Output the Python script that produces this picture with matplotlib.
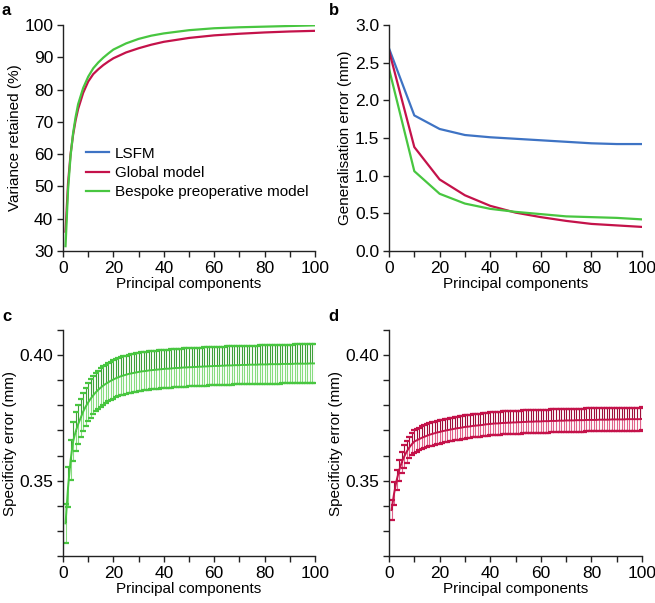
import matplotlib.pyplot as plt
import numpy as np
from matplotlib.lines import Line2D
from matplotlib.ticker import MultipleLocator, FormatStrFormatter

plt.rcParams['font.family'] = ['Liberation Sans', 'DejaVu Sans']
plt.rcParams['font.size'] = 11

blue = '#3E73C4'
red = '#C4124A'
green = '#48C640'

# panel a: cumulative variance retained (%)
var_pc = [1, 2, 3, 4, 5, 6, 8, 10, 12, 14, 16, 18, 20, 25, 30, 35, 40, 50, 60, 70, 80, 90, 100]
var_global = [36, 51, 60, 66, 70.5, 74, 79, 82.5, 84.8, 86.3, 87.6, 88.7, 89.7, 91.5, 92.8,
              93.9, 94.8, 96.0, 96.8, 97.3, 97.7, 98.0, 98.2]
var_bespoke = [31.5, 49, 59.5, 66.5, 71.5, 75.5, 80.5, 84, 86.6, 88.4, 89.9, 91.2, 92.4, 94.3,
               95.7, 96.7, 97.4, 98.4, 99.0, 99.3, 99.5, 99.7, 99.9]

# panel b: generalisation error (mm)
gen_pc = [0, 10, 20, 30, 40, 50, 60, 70, 80, 90, 100]
gen_lsfm = [2.69, 1.80, 1.62, 1.54, 1.51, 1.49, 1.47, 1.45, 1.43, 1.42, 1.42]
gen_global = [2.66, 1.38, 0.95, 0.74, 0.60, 0.51, 0.45, 0.40, 0.36, 0.34, 0.32]
gen_bespoke = [2.42, 1.06, 0.76, 0.63, 0.56, 0.52, 0.49, 0.46, 0.45, 0.44, 0.42]

# panels c, d: specificity error (mm), one value per component 1..100
spec_pc = list(range(1, 101))
spec_bespoke = [
    .3330, .3474, .3581, .3656, .3695, .3725, .3750, .3775, .3795, .3812,
    .3827, .3840, .3852, .3862, .3871, .3879, .3886, .3892, .3898, .3903,
    .3908, .3912, .3916, .3919, .3922, .3925, .3927, .3929, .3931, .3933,
    .3935, .3936, .3937, .3939, .3940, .3941, .3942, .3943, .3944, .3945,
    .3946, .3946, .3947, .3948, .3949, .3949, .3950, .3951, .3951, .3952,
    .3952, .3953, .3953, .3954, .3954, .3955, .3955, .3956, .3956, .3957,
    .3957, .3957, .3958, .3958, .3959, .3959, .3959, .3960, .3960, .3960,
    .3961, .3961, .3961, .3962, .3962, .3962, .3962, .3963, .3963, .3963,
    .3963, .3964, .3964, .3964, .3964, .3964, .3965, .3965, .3965, .3965,
    .3965, .3966, .3966, .3966, .3966, .3966, .3966, .3967, .3967, .3967]
spec_bespoke_sd = [
    .0078, .0079, .0080, .0079, .0078, .0077, .0077, .0076, .0076, .0076,
    .0076, .0076, .0076, .0076, .0076, .0076, .0076, .0076, .0076, .0076,
    .0076, .0076, .0076, .0076, .0076, .0076, .0076, .0076, .0076, .0076,
    .0076, .0076, .0076, .0076, .0076, .0076, .0076, .0076, .0076, .0076,
    .0076, .0076, .0076, .0076, .0076, .0076, .0076, .0076, .0076, .0076,
    .0076, .0076, .0076, .0076, .0076, .0076, .0076, .0076, .0076, .0076,
    .0076, .0076, .0076, .0076, .0076, .0076, .0076, .0076, .0076, .0076,
    .0076, .0076, .0076, .0076, .0076, .0076, .0076, .0076, .0077, .0077,
    .0077, .0077, .0077, .0077, .0077, .0077, .0077, .0077, .0077, .0077,
    .0077, .0077, .0077, .0077, .0077, .0077, .0077, .0077, .0077, .0077]
spec_global = [
    .3383, .3449, .3501, .3541, .3572, .3596, .3616, .3632, .3645, .3656,
    .3661, .3666, .3671, .3675, .3679, .3683, .3686, .3689, .3692, .3694,
    .3697, .3699, .3701, .3703, .3705, .3707, .3709, .3710, .3712, .3714,
    .3715, .3716, .3718, .3719, .3720, .3721, .3722, .3724, .3725, .3726,
    .3727, .3728, .3728, .3729, .3730, .3730, .3731, .3731, .3732, .3732,
    .3733, .3733, .3734, .3734, .3735, .3735, .3735, .3736, .3736, .3736,
    .3737, .3737, .3737, .3738, .3738, .3738, .3739, .3739, .3739, .3740,
    .3740, .3740, .3740, .3741, .3741, .3741, .3741, .3742, .3742, .3742,
    .3742, .3742, .3743, .3743, .3743, .3743, .3743, .3744, .3744, .3744,
    .3744, .3744, .3744, .3745, .3745, .3745, .3745, .3745, .3745, .3746]
spec_global_sd = [
    .0041, .0046, .0040, .0043, .0042, .0045, .0044, .0043, .0044, .0045,
    .0045, .0045, .0046, .0046, .0046, .0046, .0046, .0046, .0046, .0046,
    .0046, .0046, .0046, .0046, .0046, .0046, .0046, .0046, .0046, .0046,
    .0046, .0046, .0046, .0046, .0046, .0046, .0046, .0046, .0046, .0046,
    .0046, .0046, .0046, .0046, .0046, .0046, .0046, .0046, .0046, .0046,
    .0046, .0046, .0046, .0046, .0046, .0046, .0046, .0046, .0046, .0046,
    .0046, .0046, .0046, .0046, .0046, .0046, .0046, .0046, .0046, .0046,
    .0046, .0046, .0046, .0046, .0046, .0046, .0046, .0046, .0046, .0046,
    .0046, .0046, .0046, .0046, .0046, .0046, .0046, .0046, .0046, .0046,
    .0046, .0046, .0046, .0046, .0046, .0046, .0046, .0046, .0046, .0046]


def style(ax):
    ax.spines['top'].set_visible(False)
    ax.spines['right'].set_visible(False)
    for s in ['left', 'bottom']:
        ax.spines[s].set_color('#222222')
        ax.spines[s].set_linewidth(1.0)
    ax.tick_params(which='both', direction='out', length=4, width=1.0, color='#222222',
                   labelsize=12.5, pad=3)
    ax.set_xlim(0, 100)
    ax.xaxis.set_major_locator(MultipleLocator(20))
    ax.xaxis.set_minor_locator(MultipleLocator(10))
    ax.set_xlabel('Principal components', fontsize=11, labelpad=1)


fig = plt.figure(figsize=(6.55, 6.03), dpi=100)
ax_a = fig.add_axes([0.0962, 0.5837, 0.3847, 0.3748])
ax_b = fig.add_axes([0.5939, 0.5837, 0.3863, 0.3748])
ax_c = fig.add_axes([0.0962, 0.0779, 0.3847, 0.3748])
ax_d = fig.add_axes([0.5939, 0.0779, 0.3863, 0.3748])

# a
ax_a.plot(var_pc, var_global, color=red, lw=1.6)
ax_a.plot(var_pc, var_bespoke, color=green, lw=1.6)
style(ax_a)
ax_a.set_ylim(30, 100)
ax_a.yaxis.set_major_locator(MultipleLocator(10))
ax_a.set_ylabel('Variance retained (%)', fontsize=11, labelpad=2)
handles = [Line2D([], [], color=blue, lw=1.6), Line2D([], [], color=red, lw=1.6),
           Line2D([], [], color=green, lw=1.6)]
ax_a.legend(handles, ['LSFM', 'Global model', 'Bespoke preoperative model'],
            loc='center left', bbox_to_anchor=(0.09, 0.345), frameon=False,
            fontsize=11, handlelength=1.5, handletextpad=0.4, labelspacing=0.35,
            borderpad=0, borderaxespad=0)

# b
ax_b.plot(gen_pc, gen_lsfm, color=blue, lw=1.6)
ax_b.plot(gen_pc, gen_global, color=red, lw=1.6)
ax_b.plot(gen_pc, gen_bespoke, color=green, lw=1.6)
style(ax_b)
ax_b.set_ylim(0, 3.0)
ax_b.yaxis.set_major_locator(MultipleLocator(0.5))
ax_b.yaxis.set_major_formatter(FormatStrFormatter('%.1f'))
ax_b.set_ylabel('Generalisation error (mm)', fontsize=11, labelpad=2)


def spec_panel(ax, mean, sd, line_c, upper_c, lower_c):
    mean = np.array(mean)
    sd = np.array(sd)
    zeros = np.zeros_like(sd)
    # upper halves darker, lower halves lighter, caps in the line colour
    ax.errorbar(spec_pc, mean, yerr=[zeros, sd], fmt='none', ecolor=upper_c,
                elinewidth=0.8)
    ax.errorbar(spec_pc, mean, yerr=[sd, zeros], fmt='none', ecolor=lower_c,
                elinewidth=0.8)
    ax.errorbar(spec_pc, mean, yerr=sd, fmt='none', ecolor=line_c,
                elinewidth=0, capsize=2.2, capthick=1.6)
    ax.plot(spec_pc, mean, color=line_c, lw=1.4)
    style(ax)
    ax.set_ylim(0.32, 0.41)
    ax.yaxis.set_major_locator(MultipleLocator(0.05))
    ax.yaxis.set_minor_locator(MultipleLocator(0.01))
    ax.yaxis.set_major_formatter(FormatStrFormatter('%.2f'))
    ax.set_ylabel('Specificity error (mm)', fontsize=11, labelpad=2)


spec_panel(ax_c, spec_bespoke, spec_bespoke_sd, green, '#3FA03A', '#88DC80')
spec_panel(ax_d, spec_global, spec_global_sd, red, '#9E0E3A', '#E0648C')

for lab, x, y in [('a', 0.003, 0.995), ('b', 0.502, 0.995), ('c', 0.003, 0.487), ('d', 0.502, 0.487)]:
    fig.text(x, y, lab, fontsize=12, fontweight='bold', ha='left', va='top')

plt.savefig('out.png', dpi=100)
